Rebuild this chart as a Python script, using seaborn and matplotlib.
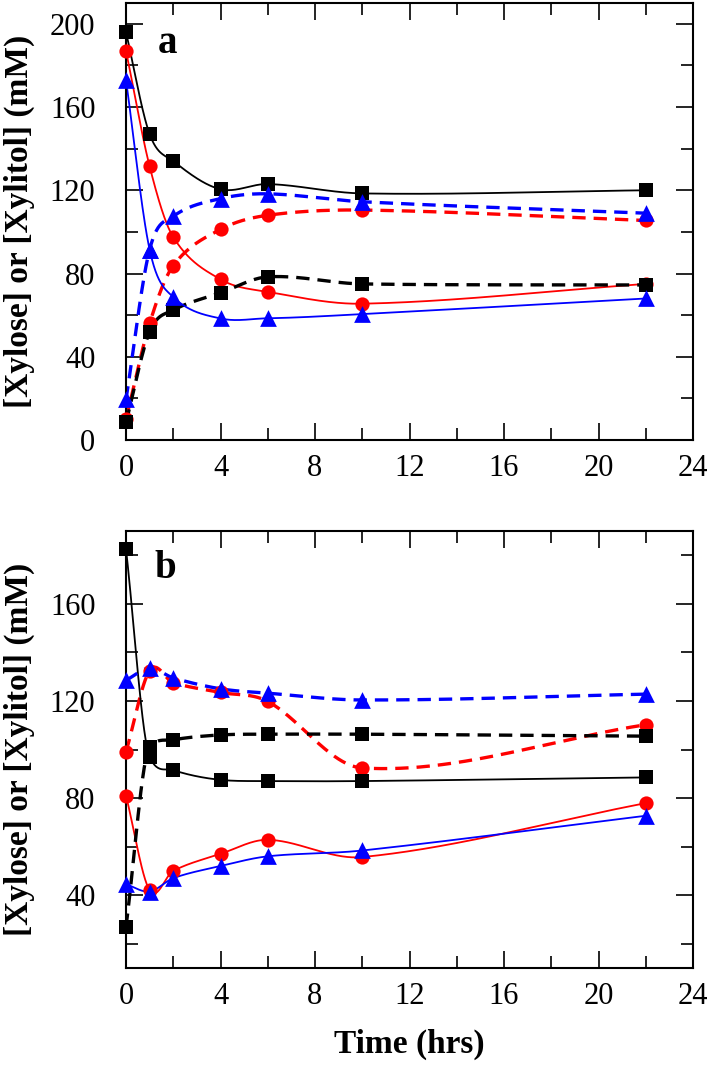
import numpy as np
import pandas as pd
import matplotlib
matplotlib.use("Agg")
import matplotlib.pyplot as plt
import seaborn as sns
from matplotlib.ticker import MultipleLocator

# ---------------- data ----------------
time_h = [0, 1, 2, 4, 6, 10, 22]

# panel a
a_black_xylose = [196, 147, 134, 120.5, 123, 118.5, 120]
a_black_xylitol = [8.5, 52, 62.4, 70.7, 78.4, 75, 74.5]
a_red_xylose = [187, 131.5, 97.5, 77.2, 71.2, 65.5, 75]
a_red_xylitol = [10, 56, 83.8, 101.2, 108, 110.5, 105.5]
a_blue_xylose = [173, 91.5, 68.7, 58.4, 58.5, 60.5, 68]
a_blue_xylitol = [19.5, 91.5, 107.5, 116, 118.3, 114.5, 109]

# panel b
b_black_xylose = [182.5, 97, 91.5, 87.5, 87, 87, 88.5]
b_black_xylitol = [27, 101, 104, 106, 106.3, 106.3, 105.5]
b_red_xylose = [81, 42, 50, 57, 62.8, 55.7, 77.9]
b_red_xylitol = [99, 132.5, 127.5, 123.5, 119.8, 92.4, 110.2]
b_blue_xylose = [44.5, 41.5, 47, 52, 56, 58.4, 72.7]
b_blue_xylitol = [128.5, 133.5, 129.5, 125, 123.2, 120.4, 122.8]

panel_labels = ["a", "b"]
y_label = "[Xylose] or [Xylitol] (mM)"
x_label = "Time (hrs)"


def smooth_curve(x, y, xs):
    """Catmull-Rom style cubic through the points (slopes limited in monotone
    stretches), used only to draw the smooth connectors."""
    x = np.asarray(x, float)
    y = np.asarray(y, float)
    n = len(x)
    h = np.diff(x)
    d = np.diff(y) / h
    m = np.empty(n)
    m[1:-1] = (y[2:] - y[:-2]) / (x[2:] - x[:-2])
    for i in range(1, n - 1):
        if d[i - 1] * d[i] > 0:
            lim = 4.0 * min(abs(d[i - 1]), abs(d[i]))
            if abs(m[i]) > lim:
                m[i] = np.sign(m[i]) * lim
    m[0] = d[0]
    m[-1] = d[-1]
    idx = np.clip(np.searchsorted(x, xs, side="right") - 1, 0, n - 2)
    ys = np.empty_like(xs)
    for k, xv in enumerate(xs):
        i = idx[k]
        hh = h[i]
        s = (xv - x[i]) / hh
        h00 = 2 * s**3 - 3 * s**2 + 1
        h10 = s**3 - 2 * s**2 + s
        h01 = -2 * s**3 + 3 * s**2
        h11 = s**3 - s**2
        ys[k] = h00 * y[i] + h10 * hh * m[i] + h01 * y[i + 1] + h11 * hh * m[i + 1]
    return ys


sns.set_style("ticks")
plt.rcParams["font.family"] = ["Liberation Serif", "DejaVu Serif"]
plt.rcParams["axes.linewidth"] = 1.5
for k in ["text.color", "axes.labelcolor", "xtick.color", "ytick.color", "axes.edgecolor"]:
    plt.rcParams[k] = "black"

fig = plt.figure(figsize=(7.11, 10.66), dpi=100)
W, H = 711.0, 1066.0
ax_a = fig.add_axes([126 / W, 1 - 440 / H, 567 / W, 437 / H])
ax_b = fig.add_axes([126 / W, 1 - 968 / H, 567 / W, 437 / H])

styles = {
    "red": dict(color="#ff0000", marker="o", s=105),
    "black": dict(color="#000000", marker="s", s=100),
    "blue": dict(color="#0000ff", marker="^", s=145),
}

panels = [
    (ax_a, {"red": (a_red_xylose, a_red_xylitol),
            "black": (a_black_xylose, a_black_xylitol),
            "blue": (a_blue_xylose, a_blue_xylitol)},
     (0, 210), 20, [0, 40, 80, 120, 160, 200], panel_labels[0], (0.056, 0.886)),
    (ax_b, {"red": (b_red_xylose, b_red_xylitol),
            "black": (b_black_xylose, b_black_xylitol),
            "blue": (b_blue_xylose, b_blue_xylitol)},
     (10, 190), 20, [40, 80, 120, 160], panel_labels[1], (0.05, 0.892)),
]

xs = np.linspace(0, 22, 600)
for ax, series, ylim, ymin, yt, lab, labpos in panels:
    for key in ["red", "black", "blue"]:
        col = styles[key]["color"]
        solid, dashed = series[key]
        df_s = pd.DataFrame({"t": xs, "v": smooth_curve(time_h, solid, xs)})
        df_d = pd.DataFrame({"t": xs, "v": smooth_curve(time_h, dashed, xs)})
        sns.lineplot(data=df_s, x="t", y="v", ax=ax, color=col, lw=1.3,
                     sort=False, estimator=None, zorder=2)
        l = sns.lineplot(data=df_d, x="t", y="v", ax=ax, color=col, lw=2.4,
                         sort=False, estimator=None, zorder=2)
        l.lines[-1].set_dashes((4.0, 2.4))
    for key in ["red", "black", "blue"]:
        st = styles[key]
        solid, dashed = series[key]
        for vals in (solid, dashed):
            dfp = pd.DataFrame({"t": time_h, "v": vals})
            sc = sns.scatterplot(data=dfp, x="t", y="v", ax=ax, color=st["color"],
                                 marker=st["marker"], s=st["s"], linewidth=0,
                                 zorder=3)
            sc.collections[-1].set_clip_on(False)

    ax.set_xlim(0, 24)
    ax.set_ylim(*ylim)
    ax.xaxis.set_major_locator(MultipleLocator(4))
    ax.xaxis.set_minor_locator(MultipleLocator(2))
    ax.set_yticks(yt)
    ax.yaxis.set_minor_locator(MultipleLocator(ymin))
    ax.tick_params(which="both", direction="in", top=True, right=True,
                   width=1.2, colors="black")
    ax.tick_params(which="major", length=12)
    ax.tick_params(which="minor", length=8.5)
    ax.tick_params(axis="y", which="major", pad=22, labelsize=22)
    ax.tick_params(axis="x", which="major", pad=10, labelsize=22)
    for sp in ax.spines.values():
        sp.set_visible(True)
        sp.set_linewidth(1.5)
        sp.set_color("black")
    ax.set_ylabel(y_label, fontsize=24, fontweight="bold")
    ax.yaxis.set_label_coords(-0.16, 0.5)
    ax.set_xlabel("")
    ax.text(labpos[0], labpos[1], lab, transform=ax.transAxes, fontsize=28,
            fontweight="bold", va="baseline", ha="left")

ax_b.set_xlabel(x_label, fontsize=24, fontweight="bold")
ax_b.xaxis.set_label_coords(0.5, -0.14)

fig.savefig("out.png", dpi=100)
